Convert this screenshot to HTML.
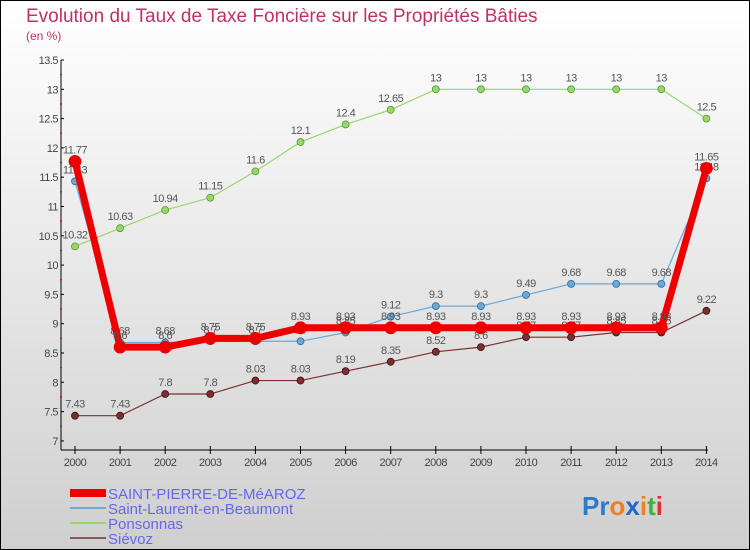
<!DOCTYPE html>
<html><head><meta charset="utf-8"><style>
body{margin:0}
#c{width:750px;height:550px;position:relative;background:linear-gradient(#ffffff,#cfcfcf);box-sizing:border-box;border:1px solid #000;font-family:"Liberation Sans",sans-serif;overflow:hidden}
</style></head><body>
<div id="c">
<svg id="s" width="750" height="550" style="position:absolute;left:-1px;top:-1px">
<text x="26" y="22" font-size="19" fill="#c0306a">Evolution du Taux de Taxe Foncière sur les Propriétés Bâties</text>
<text x="26" y="40" font-size="12" fill="#c0306a">(en %)</text>
<g id="g"></g>
<g>
<rect x="70" y="489" width="36" height="8" fill="#e00"/>
<line x1="70" y1="508" x2="106" y2="508" stroke="#7aa8cc" stroke-width="2"/>
<line x1="70" y1="523" x2="106" y2="523" stroke="#99d66a" stroke-width="2"/>
<line x1="70" y1="538" x2="106" y2="538" stroke="#8a5a5a" stroke-width="2"/>
<text x="108" y="499" font-size="15" fill="#6666ee">SAINT-PIERRE-DE-MéAROZ</text>
<text x="108" y="514" font-size="15" fill="#6666ee">Saint-Laurent-en-Beaumont</text>
<text x="108" y="529" font-size="15" fill="#6666ee">Ponsonnas</text>
<text x="108" y="544" font-size="15" fill="#6666ee">Siévoz</text>
</g>
<text x="582" y="515" font-size="26" font-weight="bold"><tspan fill="#2a7ccc">Pr</tspan><tspan fill="#f08020">o</tspan><tspan fill="#1a6acc">x</tspan><tspan fill="#f08020">i</tspan><tspan fill="#40b040">t</tspan><tspan fill="#e03030">i</tspan></text>
</svg>
</div>
<script>
const years=["2000","2001","2002","2003","2004","2005","2006","2007","2008","2009","2010","2011","2012","2013","2014"];
const yTicks=[7,7.5,8,8.5,9,9.5,10,10.5,11,11.5,12,12.5,13,13.5];
const stPierre=[11.77,8.6,8.6,8.75,8.75,8.93,8.93,8.93,8.93,8.93,8.93,8.93,8.93,8.93,11.65];
const stLaurent=[11.43,8.68,8.68,8.7,8.7,8.7,8.85,9.12,9.3,9.3,9.49,9.68,9.68,9.68,11.48];
const ponsonnas=[10.32,10.63,10.94,11.15,11.6,12.1,12.4,12.65,13,13,13,13,13,13,12.5];
const sievoz=[7.43,7.43,7.8,7.8,8.03,8.03,8.19,8.35,8.52,8.6,8.77,8.77,8.85,8.85,9.22];
const NS="http://www.w3.org/2000/svg";
const g=document.getElementById('g');
const X=i=>75+i*45.1;
const Y=v=>60+(13.5-v)*58.6;
function mk(t,a,p){const e=document.createElementNS(NS,t);for(const k in a)e.setAttribute(k,a[k]);if(p)p.appendChild(e);else g.appendChild(e);return e;}
let ax=mk('line',{x1:61,y1:60,x2:61,y2:450,stroke:'#000'});


let xa=mk('line',{x1:61,y1:450,x2:708,y2:450,stroke:'#000'});


yTicks.forEach(v=>{
 const t=mk('text',{x:58,y:Y(v)+4,'font-size':11,fill:'#444','text-anchor':'end','letter-spacing':'-0.5'});
 t.textContent=String(v);
 
 
 mk('line',{x1:61,y1:Y(v),x2:64,y2:Y(v),stroke:'#000'});
 if(v<13.5){const m=mk('line',{x1:60,y1:Y(v+0.25),x2:62,y2:Y(v+0.25),stroke:'#e00'});}
});
years.forEach((y,i)=>{
 mk('line',{x1:X(i),y1:446,x2:X(i),y2:454,stroke:'#000'});
 const t=mk('text',{x:X(i),y:466,'font-size':11,fill:'#444','text-anchor':'middle','letter-spacing':'-0.5'});
 t.textContent=y;
 
 
});
function series(name,data,color,w,r,lc){
 const grp=mk('g',{});
 
 
 const p=mk('polyline',{points:data.map((v,i)=>X(i)+','+Y(v)).join(' '),fill:'none',stroke:color,'stroke-width':w},grp);
 
 
 data.forEach((v,i)=>{
  const c=mk('circle',{cx:X(i),cy:Y(v),r:r,fill:color,stroke:lc,'stroke-width':0.8},grp);
  
  
  const t=mk('text',{x:X(i),y:Y(v)-8,'font-size':11,fill:'#555','text-anchor':'middle','letter-spacing':'-0.5'},grp);
  t.textContent=String(v);
  
  
 });
}
series('sievoz',sievoz,'#7a3030',1.2,3.5,'#3a1010');
series('ponsonnas',ponsonnas,'#99d66a',1.2,3.5,'#5a9a30');
series('saint-laurent',stLaurent,'#6aa8d8',1.2,3.5,'#2a6a9a');
series('saint-pierre',stPierre,'#ee0000',7,6,'#ee0000');
</script>
</body></html>
